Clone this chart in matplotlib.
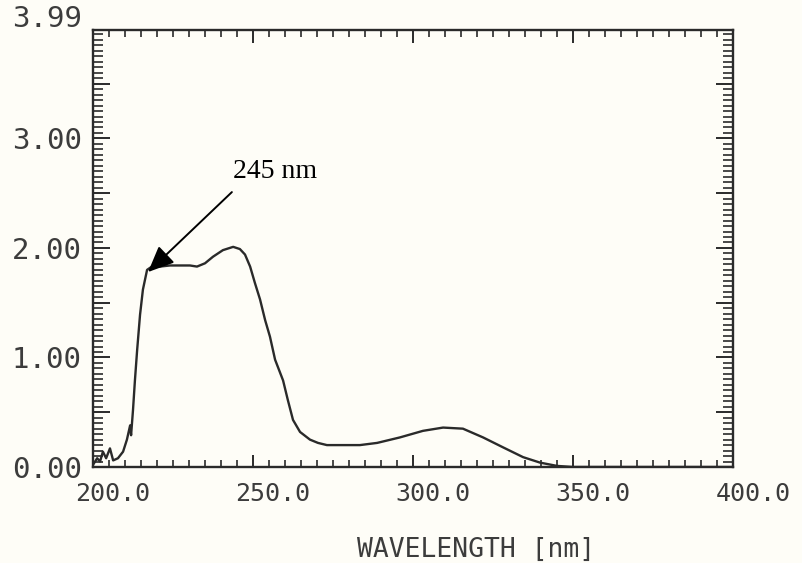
import numpy as np
import matplotlib
matplotlib.use("Agg")
import matplotlib.pyplot as plt
from matplotlib.ticker import MultipleLocator, FixedLocator
import matplotlib.transforms as mtransforms

# ---- data ----
wavelength = [200.0, 201.3, 202.2, 203.1, 204.1, 205.3, 206.3, 207.8, 209.4, 210.6,
              211.6, 211.9, 212.5, 213.1, 213.8, 214.7, 215.6, 216.9, 218.4, 220.9,
              224.1, 227.2, 230.3, 232.5, 235.0, 237.5, 240.6, 243.8, 245.9, 247.5,
              249.1, 250.6, 252.2, 253.8, 255.3, 256.9, 259.4, 260.9, 262.5, 264.7,
              267.8, 270.3, 273.1, 279.4, 283.4, 288.8, 295.9, 303.1, 309.4, 315.6,
              321.9, 328.1, 334.4, 339.7, 345.0, 350.0, 375.0, 400.0]
absorbance = [0.02, 0.08, 0.05, 0.14, 0.08, 0.17, 0.06, 0.08, 0.14, 0.25,
              0.38, 0.29, 0.52, 0.79, 1.07, 1.39, 1.62, 1.80, 1.83, 1.83,
              1.84, 1.84, 1.84, 1.83, 1.86, 1.92, 1.98, 2.01, 1.99, 1.94,
              1.83, 1.68, 1.53, 1.34, 1.19, 0.98, 0.79, 0.61, 0.43, 0.32,
              0.25, 0.22, 0.20, 0.20, 0.20, 0.22, 0.27, 0.33, 0.36, 0.35,
              0.27, 0.18, 0.09, 0.04, 0.01, 0.00, 0.00, 0.00]

xtick_values = [200, 250, 300, 350, 400]
xtick_labels = ["200.0", "250.0", "300.0", "350.0", "400.0"]
ytick_values = [0, 1, 2, 3]
ytick_labels = ["0.00", "1.00", "2.00", "3.00"]
ytop_value = 3.99
ytop_label = "3.99"
x_label = "WAVELENGTH [nm]"
annotation_text = "245 nm"
annotation_tip = (217.2, 1.78)
annotation_tail = (243.4, 2.51)
annotation_text_pos = (256.9, 2.70)

# ---- styling ----
ink = "#2a2a2a"
txt = "#3c3c3c"
mono = "DejaVu Sans Mono"

fig = plt.figure(figsize=(8.03, 5.63), dpi=100)
fig.patch.set_facecolor("#fefdf7")
ax = fig.add_axes([93 / 803, 96 / 563, 640 / 803, 437 / 563])
ax.set_facecolor("#fefdf7")

ax.plot(wavelength, absorbance, color=ink, lw=1.7, solid_joinstyle="round")

ax.set_xlim(200, 400)
ax.set_ylim(0, ytop_value)

for s in ax.spines.values():
    s.set_color(ink)
    s.set_linewidth(1.7)

# x ticks
ax.xaxis.set_major_locator(FixedLocator(xtick_values))
ax.set_xticklabels(xtick_labels, fontsize=18, family=mono, color=txt)
ax.xaxis.set_minor_locator(MultipleLocator(5))
ax.tick_params(axis="x", which="major", direction="in", length=9, width=1.4,
               color=ink, top=True, bottom=True, pad=11)
ax.tick_params(axis="x", which="minor", direction="in", length=5, width=1.2,
               color=ink, top=True, bottom=True)
offset = mtransforms.ScaledTranslation(20 / 100, 0, fig.dpi_scale_trans)
for lab in ax.get_xticklabels():
    lab.set_transform(lab.get_transform() + offset)

# y ticks
halves = np.arange(0, 3.9, 0.5)
ylabs = []
for v in halves:
    lab = ""
    for tv, tl in zip(ytick_values, ytick_labels):
        if abs(v - tv) < 1e-9:
            lab = tl
    ylabs.append(lab)
ax.set_yticks(halves)
ax.set_yticklabels(ylabs, fontsize=21, family=mono, color=txt)
ax.yaxis.set_minor_locator(MultipleLocator(0.05))
ax.tick_params(axis="y", which="major", direction="in", length=12, width=1.4,
               color=ink, left=True, right=True, pad=8)
ax.tick_params(axis="y", which="minor", direction="in", length=7, width=1.2,
               color=ink, left=True, right=True)

top_tr = ax.get_yaxis_transform() + mtransforms.ScaledTranslation(-11 / 100, 11 / 100, fig.dpi_scale_trans)
ax.text(0, ytop_value, ytop_label, transform=top_tr,
        ha="right", va="center", fontsize=21, family=mono, color=txt)

fig.text(476 / 803, 1 - 550 / 563, x_label, ha="center", va="center",
         fontsize=19, family=mono, color=txt)

ax.text(annotation_text_pos[0], annotation_text_pos[1], annotation_text,
        ha="center", va="center", fontsize=20, family="Liberation Serif", color="black")
ax.annotate("", xy=annotation_tip, xytext=annotation_tail,
            arrowprops=dict(arrowstyle="-|>,head_length=0.8,head_width=0.35",
                            mutation_scale=20, color="black", lw=1.4,
                            shrinkA=0, shrinkB=0))

fig.savefig("out.png", dpi=100, facecolor=fig.get_facecolor())
